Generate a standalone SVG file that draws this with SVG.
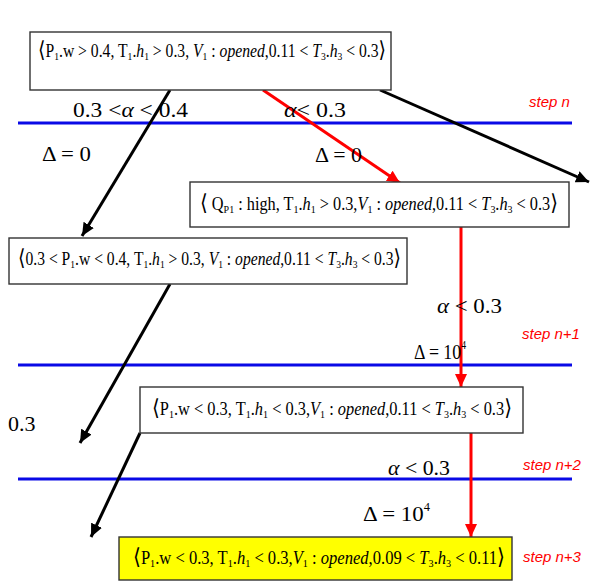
<svg xmlns="http://www.w3.org/2000/svg" width="595" height="583" viewBox="0 0 595 583">
<style>
.box{fill:#fff;stroke:#333;stroke-width:1.4}
.yel{fill:#ffff00;stroke:#333;stroke-width:1.4}
.t{font-family:"Liberation Serif","DejaVu Serif",serif;font-size:18px;fill:#000}
.lab{font-family:"Liberation Serif","DejaVu Serif",serif;font-size:22px;fill:#000}
.i{font-style:italic}
.sb{font-size:11px}
.br{font-size:22px;font-family:"DejaVu Serif",serif}
.step{font-family:"Liberation Sans",Arial,sans-serif;font-size:15px;font-style:italic;fill:#ff0000}
.blue{stroke:#0a0ae6;stroke-width:3}
.blk{stroke:#000;stroke-width:3;fill:none}
.red{stroke:#ff0000;stroke-width:3;fill:none}
</style>
<defs>
<marker id="ab" markerUnits="userSpaceOnUse" markerWidth="14" markerHeight="12" refX="13" refY="6" orient="auto"><path d="M0,0 L13,6 L0,12 Z" fill="#000"/></marker>
<marker id="ar" markerUnits="userSpaceOnUse" markerWidth="14" markerHeight="12" refX="13" refY="6" orient="auto"><path d="M0,0 L13,6 L0,12 Z" fill="#ff0000"/></marker>
</defs>
<rect width="595" height="583" fill="#fff"/>

<g id="steplines">
<line class="blue" x1="18" y1="123" x2="572" y2="123"/>
<line class="blue" x1="18" y1="365" x2="572" y2="365"/>
<line class="blue" x1="18" y1="479" x2="572" y2="479"/>
</g>

<g id="connectors">
<line class="blk" x1="170" y1="90" x2="82" y2="236" marker-end="url(#ab)"/>
<line class="blk" x1="380" y1="90" x2="589" y2="182" marker-end="url(#ab)"/>
<line class="red" x1="263" y1="90" x2="400" y2="183" marker-end="url(#ar)"/>
<line class="red" x1="461" y1="227" x2="461" y2="387" marker-end="url(#ar)"/>
<line class="blk" x1="170" y1="284" x2="80" y2="443" marker-end="url(#ab)"/>
<line class="blk" x1="140" y1="433" x2="91" y2="537" marker-end="url(#ab)"/>
<line class="red" x1="471" y1="433" x2="471" y2="537" marker-end="url(#ar)"/>
</g>

<g id="node1">
<rect class="box" x="30" y="32" width="361" height="58"/>
<text class="t" x="38" y="57" textLength="348" lengthAdjust="spacingAndGlyphs"><tspan class="br">⟨</tspan>P<tspan class="sb" dy="3">1</tspan><tspan dy="-3">.w &gt; 0.4, T</tspan><tspan class="sb" dy="3">1</tspan><tspan dy="-3">.</tspan><tspan class="i">h</tspan><tspan class="sb" dy="3">1</tspan><tspan dy="-3"> &gt; 0.3, </tspan><tspan class="i">V</tspan><tspan class="sb" dy="3">1</tspan><tspan dy="-3"> : </tspan><tspan class="i">opened</tspan>,0.11 &lt; <tspan class="i">T</tspan><tspan class="sb" dy="3">3</tspan><tspan dy="-3">.</tspan><tspan class="i">h</tspan><tspan class="sb" dy="3">3</tspan><tspan dy="-3"> &lt; 0.3</tspan><tspan class="br">⟩</tspan></text>
</g>

<g id="node2">
<rect class="box" x="190" y="182" width="379" height="45"/>
<text class="t" x="200" y="210" textLength="358" lengthAdjust="spacingAndGlyphs"><tspan class="br">⟨</tspan> Q<tspan class="sb" dy="3">P1</tspan><tspan dy="-3"> : high, T</tspan><tspan class="sb" dy="3">1</tspan><tspan dy="-3">.</tspan><tspan class="i">h</tspan><tspan class="sb" dy="3">1</tspan><tspan dy="-3"> &gt; 0.3,</tspan><tspan class="i">V</tspan><tspan class="sb" dy="3">1</tspan><tspan dy="-3"> : </tspan><tspan class="i">opened</tspan>,0.11 &lt; <tspan class="i">T</tspan><tspan class="sb" dy="3">3</tspan><tspan dy="-3">.</tspan><tspan class="i">h</tspan><tspan class="sb" dy="3">3</tspan><tspan dy="-3"> &lt; 0.3</tspan><tspan class="br">⟩</tspan></text>
</g>

<g id="node3">
<rect class="box" x="9" y="238" width="398" height="46"/>
<text class="t" x="18" y="265" textLength="383" lengthAdjust="spacingAndGlyphs"><tspan class="br">⟨</tspan>0.3 &lt; P<tspan class="sb" dy="3">1</tspan><tspan dy="-3">.w &lt; 0.4, T</tspan><tspan class="sb" dy="3">1</tspan><tspan dy="-3">.</tspan><tspan class="i">h</tspan><tspan class="sb" dy="3">1</tspan><tspan dy="-3"> &gt; 0.3, </tspan><tspan class="i">V</tspan><tspan class="sb" dy="3">1</tspan><tspan dy="-3"> : </tspan><tspan class="i">opened</tspan>,0.11 &lt; <tspan class="i">T</tspan><tspan class="sb" dy="3">3</tspan><tspan dy="-3">.</tspan><tspan class="i">h</tspan><tspan class="sb" dy="3">3</tspan><tspan dy="-3"> &lt; 0.3</tspan><tspan class="br">⟩</tspan></text>
</g>

<g id="node4">
<rect class="box" x="140" y="387" width="383" height="46"/>
<text class="t" x="152" y="415" textLength="360" lengthAdjust="spacingAndGlyphs"><tspan class="br">⟨</tspan>P<tspan class="sb" dy="3">1</tspan><tspan dy="-3">.w &lt; 0.3, T</tspan><tspan class="sb" dy="3">1</tspan><tspan dy="-3">.</tspan><tspan class="i">h</tspan><tspan class="sb" dy="3">1</tspan><tspan dy="-3"> &lt; 0.3,</tspan><tspan class="i">V</tspan><tspan class="sb" dy="3">1</tspan><tspan dy="-3"> : </tspan><tspan class="i">opened</tspan>,0.11 &lt; <tspan class="i">T</tspan><tspan class="sb" dy="3">3</tspan><tspan dy="-3">.</tspan><tspan class="i">h</tspan><tspan class="sb" dy="3">3</tspan><tspan dy="-3"> &lt; 0.3</tspan><tspan class="br">⟩</tspan></text>
</g>

<g id="node5">
<rect class="yel" x="119" y="537" width="393" height="43"/>
<text class="t" x="133" y="564" textLength="372" lengthAdjust="spacingAndGlyphs"><tspan class="br">⟨</tspan>P<tspan class="sb" dy="3">1</tspan><tspan dy="-3">.w &lt; 0.3, T</tspan><tspan class="sb" dy="3">1</tspan><tspan dy="-3">.</tspan><tspan class="i">h</tspan><tspan class="sb" dy="3">1</tspan><tspan dy="-3"> &lt; 0.3,</tspan><tspan class="i">V</tspan><tspan class="sb" dy="3">1</tspan><tspan dy="-3"> : </tspan><tspan class="i">opened</tspan>,0.09 &lt; <tspan class="i">T</tspan><tspan class="sb" dy="3">3</tspan><tspan dy="-3">.</tspan><tspan class="i">h</tspan><tspan class="sb" dy="3">3</tspan><tspan dy="-3"> &lt; 0.11</tspan><tspan class="br">⟩</tspan></text>
</g>

<g id="labels">
<text class="lab" x="73" y="117" textLength="115" lengthAdjust="spacingAndGlyphs">0.3 &lt;<tspan class="i">α</tspan> &lt; 0.4</text>
<text class="lab" x="284" y="117" textLength="62" lengthAdjust="spacingAndGlyphs"><tspan class="i">α</tspan>&lt; 0.3</text>
<text class="lab" x="42" y="161" textLength="49" lengthAdjust="spacingAndGlyphs">Δ = 0</text>
<text class="lab" x="315" y="162" textLength="47" lengthAdjust="spacingAndGlyphs">Δ = 0</text>
<text class="lab" x="437" y="313" textLength="65" lengthAdjust="spacingAndGlyphs"><tspan class="i">α</tspan> &lt; 0.3</text>
<text class="lab" x="414" y="359" textLength="52" lengthAdjust="spacingAndGlyphs">Δ = 10<tspan font-size="12" dy="-10">4</tspan></text>
<text class="lab" x="8" y="431">0.3</text>
<text class="lab" x="388" y="475" textLength="62" lengthAdjust="spacingAndGlyphs"><tspan class="i">α</tspan> &lt; 0.3</text>
<text class="lab" x="363" y="521" textLength="67" lengthAdjust="spacingAndGlyphs">Δ = 10<tspan font-size="12" dy="-10">4</tspan></text>
<text class="step" x="529" y="107">step n</text>
<text class="step" x="522" y="339">step n+1</text>
<text class="step" x="523" y="470">step n+2</text>
<text class="step" x="523" y="562">step n+3</text>
</g>
</svg>
